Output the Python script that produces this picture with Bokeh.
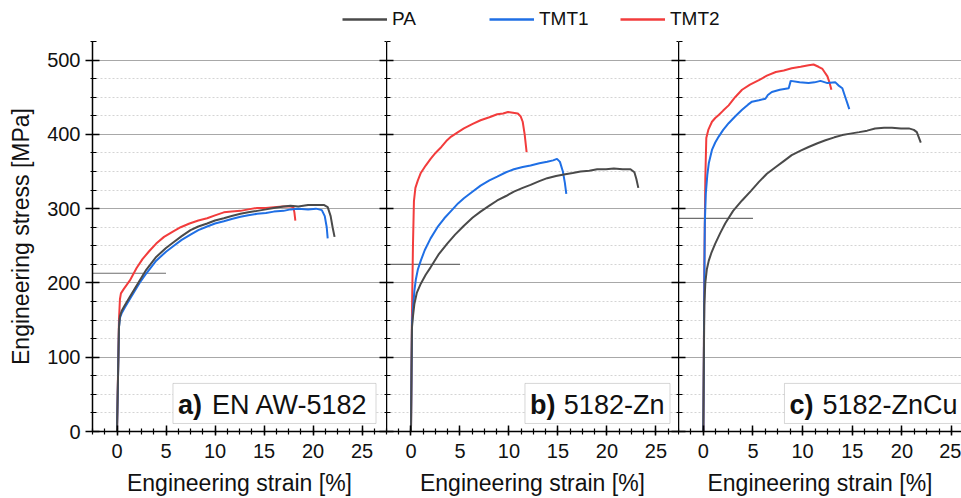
from bokeh.plotting import figure
from bokeh.layouts import column, row
from bokeh.models import (Range1d, SingleIntervalTicker, LinearAxis, Legend, LegendItem,
                          BoxAnnotation, Label, CustomJSTickFormatter)
from bokeh.embed import file_html
from bokeh.resources import INLINE

FONT = "Liberation Sans"
C_PA = "#4a4a4a"
C_T1 = "#1f6fe5"
C_T2 = "#f23c3c"

series_names = ["PA", "TMT1", "TMT2"]
panel_titles_bold = ["a)", "b)", "c)"]
panel_titles = ["EN AW-5182", "5182-Zn", "5182-ZnCu"]

# ---- panel a: EN AW-5182 ----
strain_pa_a = [0, 0.1, 0.2, 0.3, 0.5, 0.8, 1.3, 2.3, 3.0, 4.0, 5.0, 5.8, 6.6, 7.5, 8.3, 9.2, 10.0,
               10.9, 11.7, 12.6, 13.4, 14.3, 15.2, 16.0, 17.0, 17.7, 18.5, 19.5, 20.3, 21.1, 21.5,
               21.8, 22.0, 22.2]
stress_pa_a = [0, 70, 140, 155, 163, 170, 181, 203, 218, 235, 247, 255, 263, 271, 276, 280, 284,
               287, 290, 293, 295, 297, 299, 301, 303, 304, 303, 305, 305, 305, 302, 290, 275, 262]
strain_t1_a = [0, 0.1, 0.2, 0.3, 0.5, 0.8, 1.3, 2.3, 3.0, 4.0, 5.0, 5.8, 6.6, 7.5, 8.3, 9.2, 10.0,
               10.9, 11.7, 12.6, 13.4, 14.3, 15.2, 16.0, 17.0, 17.7, 18.5, 19.5, 20.3, 20.9, 21.2,
               21.4, 21.5]
stress_t1_a = [0, 70, 140, 153, 160, 167, 178, 200, 213, 230, 242, 250, 258, 265, 271, 276, 280,
               283, 286, 289, 291, 293, 294, 296, 297, 299, 300, 299, 300, 298, 290, 275, 260]
strain_t2_a = [0, 0.1, 0.2, 0.3, 0.4, 0.7, 1.3, 2.0, 2.6, 3.3, 4.0, 4.8, 5.7, 6.5, 7.4, 8.3, 9.2,
               10.0, 10.9, 11.7, 12.6, 13.4, 14.3, 15.2, 16.0, 16.9, 17.7, 18.0, 18.1, 18.2]
stress_t2_a = [0, 75, 150, 178, 186, 192, 203, 220, 232, 243, 253, 262, 269, 275, 280, 284, 287,
               291, 295, 296, 297, 299, 301, 301, 302, 303, 303, 302, 295, 284]

# ---- panel b: 5182-Zn ----
strain_pa_b = [0, 0.05, 0.1, 0.2, 0.35, 0.6, 1.0, 1.5, 2.0, 2.8, 3.7, 4.5, 5.4, 6.3, 7.1, 8.0, 8.8,
               9.7, 10.5, 11.4, 12.2, 13.1, 13.9, 14.8, 15.6, 16.5, 17.3, 18.2, 19.0, 19.9, 20.7,
               21.6, 22.4, 22.8, 23.0, 23.2]
stress_pa_b = [0, 75, 140, 155, 172, 187, 199, 211, 221, 238, 253, 265, 277, 288, 296, 304, 311,
               317, 323, 328, 332, 337, 341, 344, 346, 348, 350, 351, 353, 353, 354, 353, 353, 349,
               340, 328]
strain_t1_b = [0, 0.05, 0.1, 0.2, 0.35, 0.5, 0.7, 1.0, 1.4, 2.0, 2.7, 3.4, 4.1, 4.8, 5.4, 6.3, 7.1,
               8.0, 8.8, 9.7, 10.5, 11.4, 12.2, 13.1, 13.9, 14.5, 14.9, 15.2, 15.5, 15.7, 15.85]
stress_t1_b = [0, 75, 145, 165, 190, 205, 218, 230, 244, 260, 275, 287, 297, 307, 314, 323, 331,
               338, 343, 349, 353, 356, 358, 361, 363, 365, 367, 363, 350, 335, 320]
strain_t2_b = [0, 0.05, 0.1, 0.2, 0.3, 0.45, 0.7, 1.0, 1.5, 2.0, 2.5, 3.1, 3.6, 4.1, 4.8, 5.4, 6.3,
               7.1, 8.0, 8.8, 9.4, 9.9, 10.4, 10.9, 11.2, 11.4, 11.6, 11.8]
stress_t2_b = [0, 80, 160, 250, 310, 328, 338, 348, 358, 367, 375, 383, 391, 397, 403, 408, 414,
               419, 423, 427, 428, 430, 429, 428, 424, 417, 400, 376]

# ---- panel c: 5182-ZnCu ----
strain_pa_c = [0, 0.05, 0.1, 0.2, 0.35, 0.55, 0.8, 1.2, 1.7, 2.2, 3.0, 3.9, 4.8, 5.6, 6.4, 7.3, 8.1,
               8.9, 9.8, 10.6, 11.5, 12.3, 13.2, 14.0, 14.8, 15.7, 16.5, 17.3, 18.2, 19.0, 19.9,
               20.7, 21.2, 21.5, 21.7, 21.9]
stress_pa_c = [0, 90, 170, 200, 218, 230, 240, 253, 267, 280, 297, 311, 324, 336, 347, 356, 364,
               372, 378, 383, 388, 392, 396, 399, 401, 403, 405, 408, 409, 409, 408, 408, 406, 403,
               396, 389]
strain_t1_c = [0, 0.05, 0.1, 0.15, 0.25, 0.4, 0.55, 0.87, 1.2, 1.55, 2.0, 2.55, 3.2, 3.9, 4.5, 4.9,
               5.6, 6.25, 6.5, 6.9, 7.7, 8.6, 8.8, 9.7, 10.6, 11.2, 11.8, 12.5, 13.3, 13.6, 14.0,
               14.3, 14.5, 14.7]
stress_t1_c = [0, 100, 200, 280, 320, 345, 361, 379, 389, 397, 406, 415, 424, 433, 440, 444, 446,
               448, 453, 457, 460, 462, 472, 470, 469, 470, 472, 469, 470, 466, 462, 450, 442, 434]
strain_t2_c = [0, 0.05, 0.1, 0.2, 0.3, 0.5, 0.87, 1.2, 1.55, 2.0, 2.55, 3.2, 3.9, 4.7, 5.6, 6.4,
               7.3, 8.1, 8.9, 9.8, 10.6, 11.1, 11.6, 12.0, 12.2, 12.5, 12.7, 12.9]
stress_t2_c = [0, 100, 220, 340, 395, 406, 417, 422, 426, 432, 439, 450, 460, 467, 473, 479, 484,
               486, 489, 491, 493, 494, 491, 488, 484, 478, 470, 460]

# horizontal marker lines (stress level, drawn from the axis to 5 % strain)
marker_stress = [213, 225, 287]
marker_strain = [-2.5, 5.0]

panels = [
    (strain_pa_a, stress_pa_a, strain_t1_a, stress_t1_a, strain_t2_a, stress_t2_a),
    (strain_pa_b, stress_pa_b, strain_t1_b, stress_t1_b, strain_t2_b, stress_t2_b),
    (strain_pa_c, stress_pa_c, strain_t1_c, stress_t1_c, strain_t2_c, stress_t2_c),
]

# layout (pixels) and label-box geometry (data units)
widths = [386, 292, 283]
left_borders = [92, 0, 0]
x_ends = [27.5, 27.3, 26.0]
box_lr = [(5.71, 26.43), (11.63, 26.43), (8.17, 27.5)]
lab_bold_x = [6.22, 12.14, 8.67]
lab_text_x = [9.69, 15.6, 12.0]

EMPTY = CustomJSTickFormatter(code="return ''")


def style_x_axis(ax):
    ax.ticker = SingleIntervalTicker(interval=5, num_minor_ticks=4)
    ax.axis_line_color = "black"
    ax.axis_line_width = 1.5
    ax.major_tick_line_color = "black"
    ax.major_tick_line_width = 1.5
    ax.minor_tick_line_color = "black"
    ax.minor_tick_line_width = 1.2
    ax.major_tick_in = 6
    ax.major_tick_out = 4
    ax.minor_tick_in = 3
    ax.minor_tick_out = 3
    ax.major_label_text_font = FONT
    ax.major_label_text_font_size = "20px"
    ax.major_label_text_color = "#111111"
    ax.major_label_standoff = 8
    ax.axis_label_text_font = FONT
    ax.axis_label_text_font_size = "23px"
    ax.axis_label_text_font_style = "normal"
    ax.axis_label_text_color = "#111111"
    ax.axis_label_standoff = 9


figs = []
for i in range(3):
    p = figure(width=widths[i], height=460,
               x_range=Range1d(-2.5, x_ends[i]), y_range=Range1d(0, 525),
               output_backend="svg", toolbar_location=None,
               min_border_left=left_borders[i], min_border_right=0,
               min_border_top=3, min_border_bottom=67,
               x_axis_label="Engineering strain [%]",
               y_axis_label="Engineering stress [MPa]" if i == 0 else None)
    p.outline_line_color = None
    p.background_fill_color = "white"
    p.xgrid.grid_line_color = None
    p.ygrid.grid_line_color = "#a8a8a8"
    p.ygrid.grid_line_width = 1
    p.ygrid.minor_grid_line_color = "#d4d4d4"
    p.ygrid.minor_grid_line_dash = "2 2"
    style_x_axis(p.xaxis[0])
    yax = p.yaxis[0]
    yax.ticker = SingleIntervalTicker(interval=100, num_minor_ticks=4)
    yax.axis_line_color = "black"
    yax.axis_line_width = 1.5
    yax.major_tick_line_color = "black"
    yax.major_tick_line_width = 1.5
    yax.minor_tick_line_color = "black"
    yax.minor_tick_line_width = 1.2
    yax.major_tick_in = 7
    yax.minor_tick_in = 4
    if i == 0:
        yax.major_tick_out = 7
        yax.minor_tick_out = 2
        yax.major_label_text_font = FONT
        yax.major_label_text_font_size = "20px"
        yax.major_label_text_color = "#111111"
        yax.major_label_standoff = 5
        yax.axis_label_text_font = FONT
        yax.axis_label_text_font_size = "23px"
        yax.axis_label_text_font_style = "normal"
        yax.axis_label_text_color = "#111111"
        yax.axis_label_standoff = 10
    else:
        yax.major_tick_out = 0
        yax.minor_tick_out = 0
        yax.formatter = EMPTY
        yax.major_label_text_font_size = "1px"
        yax.major_label_standoff = 0
    # outward half of the next panel's y-axis ticks
    if i < 2:
        rax = LinearAxis(ticker=SingleIntervalTicker(interval=100, num_minor_ticks=4),
                         formatter=EMPTY)
        rax.axis_line_color = None
        rax.major_tick_line_color = "black"
        rax.major_tick_line_width = 1.5
        rax.minor_tick_line_color = "black"
        rax.minor_tick_line_width = 1.2
        rax.major_tick_in = 7
        rax.major_tick_out = 0
        rax.minor_tick_in = 2
        rax.minor_tick_out = 0
        rax.major_label_text_font_size = "1px"
        rax.major_label_standoff = 0
        p.add_layout(rax, "right")

    sx_pa, sy_pa, sx_t1, sy_t1, sx_t2, sy_t2 = panels[i]
    p.line(marker_strain, [marker_stress[i], marker_stress[i]], line_color="#6e6e6e", line_width=1.2)
    p.line(sx_t2, sy_t2, line_color=C_T2, line_width=2)
    p.line(sx_t1, sy_t1, line_color=C_T1, line_width=2)
    p.line(sx_pa, sy_pa, line_color=C_PA, line_width=2)

    l, r = box_lr[i]
    p.add_layout(BoxAnnotation(left=l, right=r, bottom=10.8, top=64.7, fill_color="white",
                               fill_alpha=1, line_color="#7a7a7a", line_width=1))
    p.add_layout(Label(x=lab_bold_x[i], y=36, text=panel_titles_bold[i], text_font=FONT,
                       text_font_size="27px", text_font_style="bold", text_baseline="middle",
                       text_color="#111111"))
    p.add_layout(Label(x=lab_text_x[i], y=36, text=panel_titles[i], text_font=FONT,
                       text_font_size="27px", text_baseline="middle", text_color="#111111"))
    figs.append(p)

# legend strip: the series of panel a are drawn here outside the visible ranges,
# only their legend entries show
leg = figure(width=961, height=38, x_range=Range1d(-20, -10), y_range=Range1d(-20, -10),
             output_backend="svg", toolbar_location=None, min_border=0,
             x_axis_location=None, y_axis_location=None)
leg.outline_line_color = None
leg.grid.visible = False
leg_x = [342, 489, 620]
leg_data = [(strain_pa_a, stress_pa_a), (strain_t1_a, stress_t1_a), (strain_t2_a, stress_t2_a)]
for name, col, lx, (dx, dy) in zip(series_names, [C_PA, C_T1, C_T2], leg_x, leg_data):
    rr = leg.line(dx, dy, line_color=col, line_width=2.5)
    lg = Legend(items=[LegendItem(label=name, renderers=[rr])], location=(lx, 8),
                orientation="horizontal", glyph_width=45, glyph_height=20, label_height=20,
                label_standoff=5, padding=0, margin=0, spacing=0, border_line_color=None,
                background_fill_alpha=0, label_text_font=FONT, label_text_font_size="19px",
                label_text_color="#111111")
    leg.add_layout(lg)

layout = column(leg, row(*figs, spacing=0), spacing=0)
open("out.html", "w").write(file_html(layout, INLINE))
